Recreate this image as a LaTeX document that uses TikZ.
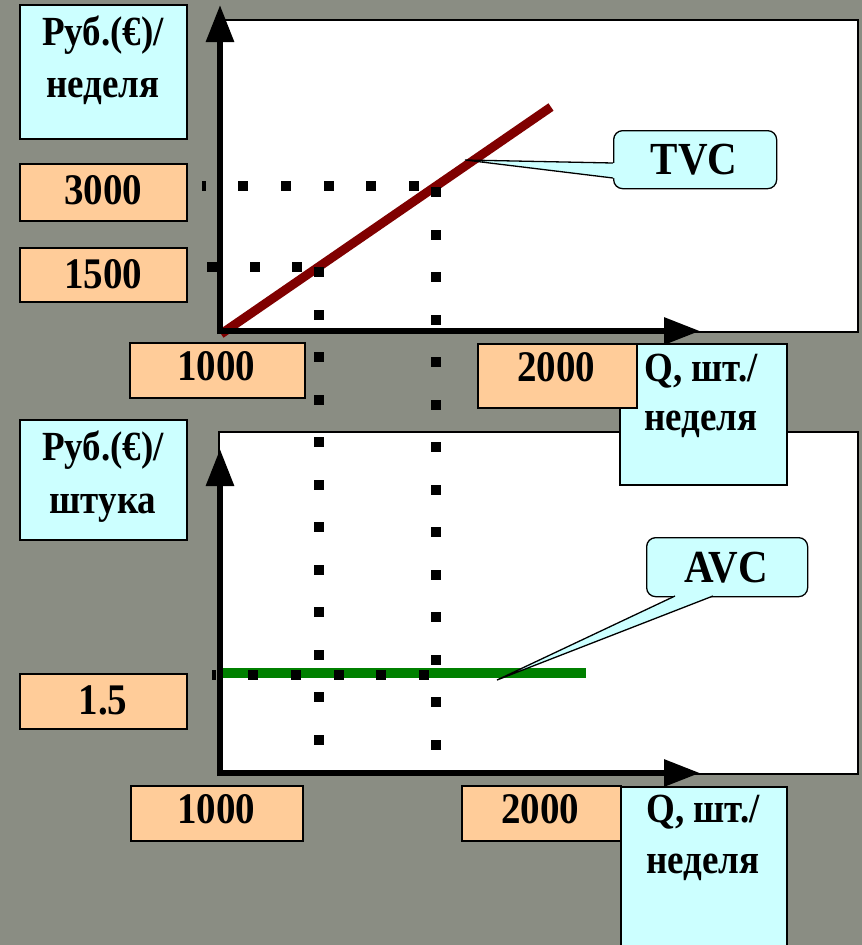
\documentclass[tikz,border=0pt]{standalone}
\usepackage{fontspec}
\usepackage{graphicx}
\setmainfont{Liberation Serif}
\usetikzlibrary{arrows.meta}
\definecolor{bgc}{RGB}{138,141,131}
\definecolor{cyanf}{RGB}{204,255,255}
\definecolor{orf}{RGB}{255,204,153}
\definecolor{tvcred}{RGB}{128,0,0}
\definecolor{avcgreen}{RGB}{0,128,0}
\newcommand{\tallt}[1]{\scalebox{1}[1.12]{#1}}
\begin{document}
\begin{tikzpicture}[x=1pt,y=-1pt,
  box/.style={draw=black, line width=1.6pt, inner sep=0pt, anchor=north west},
  cyanbox/.style={box, fill=cyanf},
  orbox/.style={box, fill=orf},
  callbox/.style={box, fill=cyanf, rounded corners=9pt, line width=1.3pt},
  chart/.style={draw=black, line width=1.6pt, fill=white},
  lbl/.style={font=\fontsize{37}{44}\selectfont\bfseries, inner sep=0pt, anchor=base},
  num/.style={font=\fontsize{39}{44}\selectfont\bfseries, inner sep=0pt, anchor=base},
  big/.style={font=\fontsize{41}{44}\selectfont\bfseries, inner sep=0pt, anchor=base},
  axis/.style={line width=6pt, -{Triangle[length=37pt,width=27pt]}},
  xaxis/.style={line width=6pt, -{Triangle[length=36pt,width=26pt]}},
  dotsq/.style={fill=black}
]
\useasboundingbox (0,0) rectangle (862,945);
\fill[bgc] (0,0) rectangle (862,945);

% chart areas
\draw[chart] (219,20) rectangle (858,332);
\draw[chart] (219,432) rectangle (858,774);

% curves
\draw[tvcred, line width=9pt] (221,334) -- (551,107);
\draw[avcgreen, line width=10pt] (219,673) -- (586,673);

% dotted guide lines
\fill[dotsq] (202,181) rectangle (206,191);
\foreach \x in {243,286,329,371,414} \fill[dotsq] (\x-5,181) rectangle (\x+5,191);
\foreach \x in {212,255,297} \fill[dotsq] (\x-5,262) rectangle (\x+5,272);
\fill[dotsq] (212,670) rectangle (216,680);
\foreach \x in {253,296,339,381,424} \fill[dotsq] (\x-5,670) rectangle (\x+5,680);
\foreach \i in {0,...,11} \fill[dotsq] (314,272+42.5*\i-5) rectangle (324,272+42.5*\i+5);
\foreach \i in {0,...,13} \fill[dotsq] (431,192+42.5*\i-5) rectangle (441,192+42.5*\i+5);

% axes
\coordinate (o1) at (220,331);
\coordinate (y1) at (220,5);
\coordinate (x1) at (700,331);
\coordinate (o2) at (220,773);
\coordinate (y2) at (220,449);
\coordinate (x2) at (700,773);
\draw[axis] ([yshift=-3pt]o1) -- (y1);
\draw[xaxis] ([xshift=-3pt]o1) -- (x1);
\draw[axis] ([yshift=-3pt]o2) -- (y2);
\draw[xaxis] ([xshift=-3pt]o2) -- (x2);

% callouts
\node[callbox, minimum width=163pt, minimum height=58pt] (tvcbox) at (613,130) {};
\node[big] (tvc) at (694,174) {\tallt{TVC}};
\coordinate (tvctip) at (465,160);
\fill[cyanf] (617,163) -- (613,163) -- (tvctip) -- (613,178) -- (617,178) -- cycle;
\draw[line width=1.3pt, line join=miter] (613,163) -- (tvctip) -- (613,178);

\node[callbox, minimum width=161pt, minimum height=59pt] (avcbox) at (646,537) {};
\node[big] (avc) at (726,582) {\tallt{AVC}};
\coordinate (avctip) at (497,680);
\fill[cyanf] (675,592) -- (675,596) -- (avctip) -- (713,596) -- (713,592) -- cycle;
\draw[line width=1.3pt] (675,596) -- (avctip) -- (713,596);

% top chart labels
\node[cyanbox, minimum width=167pt, minimum height=134pt] (ylab1) at (19,4) {};
\node[lbl] (ylab1a) at (103,45) {\tallt{Руб.(€)/}};
\node[lbl] (ylab1b) at (103,97) {\tallt{неделя}};
\node[orbox, minimum width=167pt, minimum height=57pt] (v3000) at (19,163) {};
\node[num] (t3000) at (103,204) {\tallt{3000}};
\node[orbox, minimum width=167pt, minimum height=54pt] (v1500) at (19,247) {};
\node[num] (t1500) at (103,288) {\tallt{1500}};
\node[orbox, minimum width=175pt, minimum height=55pt] (v1000a) at (129,342) {};
\node[num] (t1000a) at (216,380) {\tallt{1000}};
\node[cyanbox, minimum width=167pt, minimum height=141pt] (qlab1) at (619,343) {};
\node[lbl] (qlab1a) at (701,381) {\tallt{Q, шт./}};
\node[lbl] (qlab1b) at (701,430) {\tallt{неделя}};
\node[orbox, minimum width=159pt, minimum height=64pt] (v2000a) at (477,343) {};
\node[num] (t2000a) at (556,381) {\tallt{2000}};

% bottom chart labels
\node[cyanbox, minimum width=167pt, minimum height=120pt] (ylab2) at (19,419) {};
\node[lbl] (ylab2a) at (103,460) {\tallt{Руб.(€)/}};
\node[lbl] (ylab2b) at (103,513) {\tallt{штука}};
\node[orbox, minimum width=167pt, minimum height=55pt] (v15) at (19,673) {};
\node[num] (t15) at (103,714) {\tallt{1.5}};
\node[orbox, minimum width=172pt, minimum height=55pt] (v1000b) at (130,785) {};
\node[num] (t1000b) at (216,823) {\tallt{1000}};
\node[orbox, minimum width=159pt, minimum height=55pt] (v2000b) at (461,785) {};
\node[num] (t2000b) at (540,823) {\tallt{2000}};
\node[cyanbox, minimum width=166pt, minimum height=200pt] (qlab2) at (620,786) {};
\node[lbl] (qlab2a) at (703,822) {\tallt{Q, шт./}};
\node[lbl] (qlab2b) at (703,873) {\tallt{неделя}};
\end{tikzpicture}
\end{document}
